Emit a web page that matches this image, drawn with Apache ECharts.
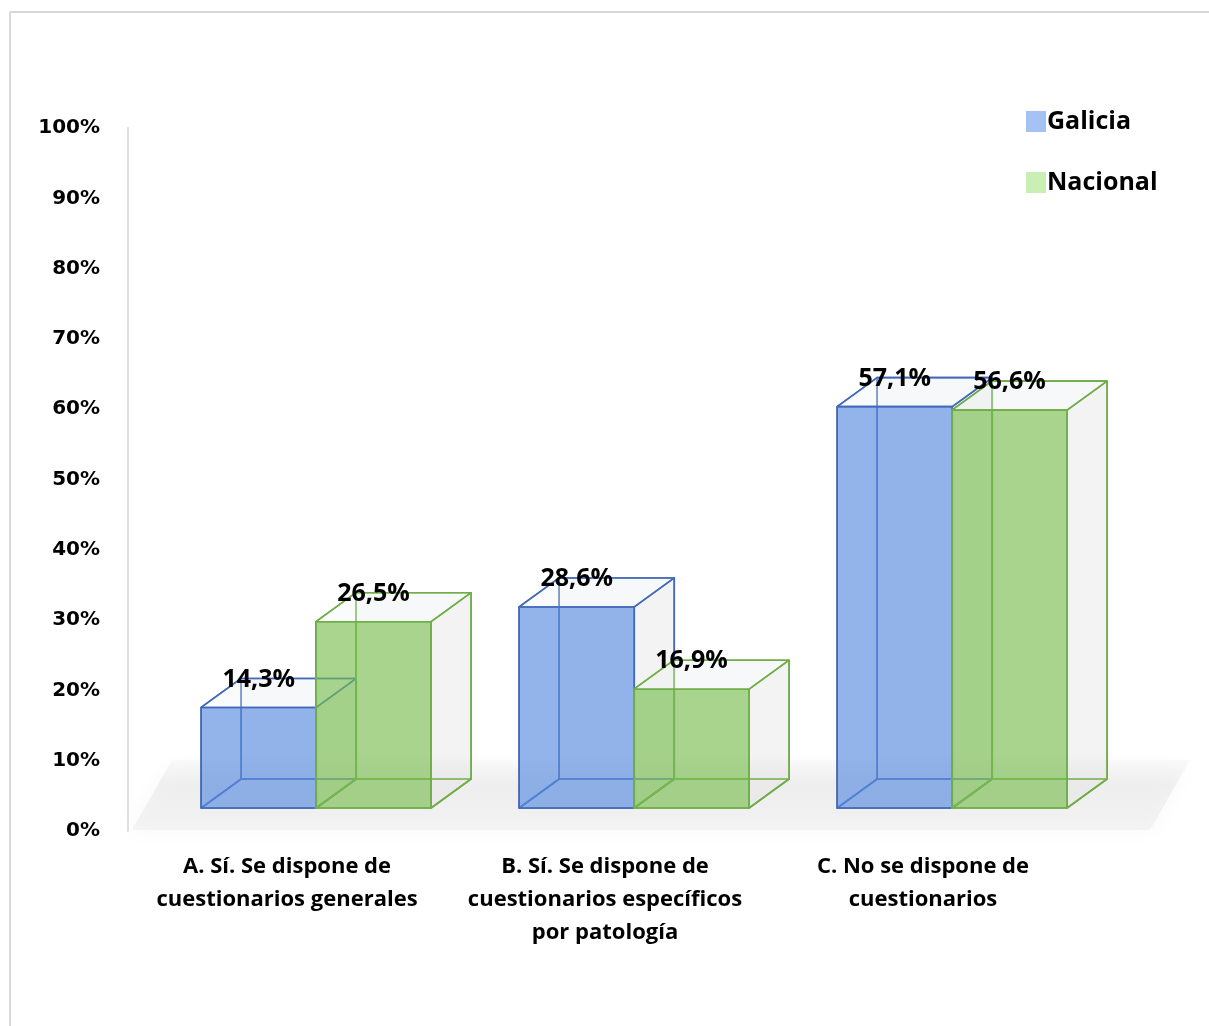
<!DOCTYPE html>
<html><head><meta charset="utf-8">
<script src="https://cdn.jsdelivr.net/npm/echarts@6/dist/echarts.min.js"></script>
<style>html,body{margin:0;padding:0;background:#fff}#c{width:1209px;height:1026px}</style>
</head><body><div id="c"></div>
<script>
const categories = ['A. Sí. Se dispone de\ncuestionarios generales', 'B. Sí. Se dispone de\ncuestionarios específicos\npor patología', 'C. No se dispone de\ncuestionarios'];
const seriesNames = ['Galicia', 'Nacional'];
const galicia = [14.3, 28.6, 57.1];
const nacional = [26.5, 16.9, 56.6];
const galiciaLabels = ['14,3%', '28,6%', '57,1%'];
const nacionalLabels = ['26,5%', '16,9%', '56,6%'];

const chart = echarts.init(document.getElementById('c'), null, {renderer: 'canvas'});

function makeRender(look, offsetFrac, labels) {
  return function (params, api) {
    const idx = api.value(0), val = api.value(1);
    const bw = api.size([1, 0])[0];
    const c = api.coord([idx, 0]);
    const t = api.coord([idx, val]);
    const FY = -23, DX = 40, DY = -29;
    const x0 = c[0] + offsetFrac * bw, x1 = x0 + 0.362 * bw;
    const yb = c[1] + FY, yt = t[1] + FY;
    const fbl = [x0, yb], fbr = [x1, yb], ftl = [x0, yt], ftr = [x1, yt];
    const bbl = [x0 + DX, yb + DY], bbr = [x1 + DX, yb + DY], btl = [x0 + DX, yt + DY], btr = [x1 + DX, yt + DY];
    const poly = (pts, fill, z) => ({type: 'polygon', z2: z, shape: {points: pts},
      style: {fill: fill, stroke: look.edge, lineWidth: 1.6, lineJoin: 'round'}});
    return {type: 'group', children: [
      poly([bbl, bbr, btr, btl], 'rgba(225,228,225,0.15)', 1),
      poly([fbl, bbl, btl, ftl], 'rgba(0,0,0,0)', 2),
      poly([fbl, fbr, bbr, bbl], 'rgba(0,0,0,0)', 3),
      poly([fbr, bbr, btr, ftr], 'rgba(215,220,215,0.25)', 4),
      poly([ftl, ftr, btr, btl], 'rgba(240,243,246,0.35)', 5),
      poly([fbl, fbr, ftr, ftl], look.front, 6),
      {type: 'text', z2: 20, style: {x: (x0 + x1) / 2, y: yt + DY + 1, text: labels[params.dataIndex],
        align: 'center', verticalAlign: 'middle', fill: '#000',
        font: 'bold 25px "Open Sans", sans-serif'}}
    ]};
  };
}

const option = {
  backgroundColor: '#fff',
  animation: false,
  graphic: [
    {type: 'line', z: 0, shape: {x1: 10, y1: 12, x2: 1209, y2: 12}, style: {stroke: '#d9d9d9', lineWidth: 2}},
    {type: 'line', z: 0, shape: {x1: 10, y1: 12, x2: 10, y2: 1026}, style: {stroke: '#d9d9d9', lineWidth: 2}},
    {type: 'polygon', z: 0, shape: {points: [[132, 830], [1150, 830], [1190, 760], [172, 760]]},
      style: {fill: new echarts.graphic.LinearGradient(0, 0, 0, 1, [
        {offset: 0, color: 'rgba(225,225,225,0.15)'},
        {offset: 0.35, color: 'rgba(228,228,228,0.5)'},
        {offset: 1, color: 'rgba(238,238,238,0.6)'}]),
        shadowBlur: 18, shadowColor: 'rgba(0,0,0,0.05)'}}
  ],
  legend: {
    orient: 'vertical', left: 1026, top: 109, padding: 0, itemWidth: 20, itemHeight: 21, itemGap: 36,
    icon: 'rect',
    textStyle: {fontFamily: 'Open Sans', fontWeight: 'bold', fontSize: 25, color: '#000', padding: [0, 0, 0, -4]},
    data: seriesNames
  },
  grid: {left: 128, right: 127, top: 128, bottom: 195},
  xAxis: {
    type: 'category', data: categories, boundaryGap: true,
    axisLine: {show: false}, axisTick: {show: false}, splitLine: {show: false},
    axisLabel: {margin: 19, fontFamily: 'Open Sans', fontWeight: 'bold', fontSize: 22, color: '#000', lineHeight: 33, interval: 0}
  },
  yAxis: {
    type: 'value', min: 0, max: 100, interval: 10,
    axisLine: {show: true, lineStyle: {color: '#dedede', width: 2}},
    axisTick: {show: false}, splitLine: {show: false},
    axisLabel: {formatter: '{value}%', margin: 28, fontFamily: 'DejaVu Sans', fontWeight: 'bold', fontSize: 20, color: '#000'}
  },
  series: [
    {name: 'Galicia', type: 'custom', z: 3, itemStyle: {color: '#a4c2f4'},
      renderItem: makeRender({edge: '#4169b8', front: 'rgba(91,141,224,0.66)'}, -0.27, galiciaLabels),
      data: galicia.map((v, i) => [i, v])},
    {name: 'Nacional', type: 'custom', z: 4, itemStyle: {color: '#c9efb5'},
      renderItem: makeRender({edge: '#70ad47', front: 'rgba(120,190,80,0.64)'}, 0.091, nacionalLabels),
      data: nacional.map((v, i) => [i, v])}
  ]
};
chart.setOption(option);
</script>
</body></html>
